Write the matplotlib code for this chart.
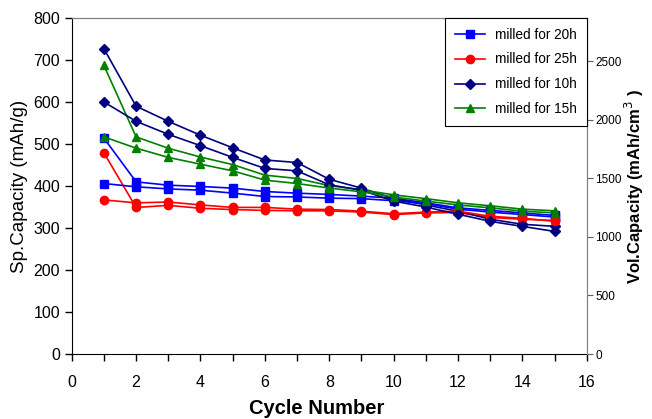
import matplotlib
matplotlib.use('Agg')
import matplotlib.pyplot as plt
from matplotlib.ticker import MultipleLocator

plt.rcParams['font.family'] = ['Liberation Sans', 'DejaVu Sans']

cycles = list(range(1, 16))

# specific capacity (mAh/g), left axis
sp_20h = [514, 410, 402, 399, 395, 387, 383, 380, 376, 371, 360, 348, 342, 336, 330]
sp_25h = [479, 349, 354, 347, 344, 342, 341, 341, 338, 332, 336, 337, 325, 321, 318]
sp_10h = [727, 590, 554, 521, 491, 462, 456, 416, 395, 370, 355, 340, 321, 309, 304]
sp_15h = [687, 517, 490, 469, 451, 426, 418, 401, 391, 379, 370, 360, 353, 345, 341]

# volumetric capacity (mAh/cm3), right axis
vol_20h = [1456, 1428, 1410, 1399, 1374, 1345, 1341, 1331, 1327, 1309, 1284, 1237, 1212, 1191, 1170]
vol_25h = [1316, 1291, 1298, 1273, 1252, 1252, 1237, 1234, 1220, 1198, 1212, 1220, 1176, 1159, 1133]
vol_10h = [2152, 1987, 1876, 1779, 1679, 1585, 1564, 1445, 1399, 1306, 1255, 1194, 1133, 1090, 1047]
vol_15h = [1854, 1758, 1679, 1621, 1564, 1485, 1456, 1417, 1385, 1341, 1306, 1273, 1248, 1220, 1205]

labels = ['milled for 20h', 'milled for 25h', 'milled for 10h', 'milled for 15h']
colors = ['#0000ff', '#ff0000', '#000080', '#008000']
markers = ['s', 'o', 'D', '^']
sizes = [6, 6, 5, 6]

fig = plt.figure(figsize=(6.52, 4.19), dpi=100)
ax = fig.add_axes([0.110, 0.155, 0.790, 0.802])
ax2 = ax.twinx()

sp_all = [sp_20h, sp_25h, sp_10h, sp_15h]
vol_all = [vol_20h, vol_25h, vol_10h, vol_15h]
handles = []
for sp, vol, lab, c, m, ms in zip(sp_all, vol_all, labels, colors, markers, sizes):
    h, = ax.plot(cycles, sp, color=c, marker=m, markersize=ms, lw=1.2, label=lab)
    ax2.plot(cycles, vol, color=c, marker=m, markersize=ms, lw=1.2)
    handles.append(h)

ax.set_xlim(0, 16)
ax.set_ylim(0, 800)
ax2.set_ylim(0, 2869)
ax.xaxis.set_major_locator(MultipleLocator(2))
ax.xaxis.set_minor_locator(MultipleLocator(1))
ax.yaxis.set_major_locator(MultipleLocator(100))
ax2.yaxis.set_major_locator(MultipleLocator(500))

ax.tick_params(axis='both', which='both', direction='out', length=5, width=1, labelsize=11.5)
ax.tick_params(axis='x', which='minor', length=5)
ax.tick_params(axis='x', pad=10)
ax2.tick_params(axis='y', direction='out', length=4, pad=2, color='#606060', labelsize=8.5)

for s in ['top', 'right']:
    ax.spines[s].set_color('#808080')
    ax2.spines[s].set_color('#808080')
ax2.spines['left'].set_visible(False)
ax2.spines['bottom'].set_visible(False)

ax.set_xlabel('Cycle Number', fontsize=14.5, fontweight='bold')
ax.xaxis.set_label_coords(0.476, -0.135)
ax.set_ylabel('Sp.Capacity (mAh/g)', fontsize=13.5, labelpad=4)
ax2.set_ylabel('Vol.Capacity (mAh/cm$^{3}$ )', fontsize=12, fontweight='bold')
ax2.yaxis.set_label_coords(1.07, 0.5)

leg = ax2.legend(handles, labels, loc='upper right', bbox_to_anchor=(1.0, 1.0),
                 borderaxespad=0, fancybox=False, framealpha=1, edgecolor='black',
                 fontsize=9.8, handlelength=2.2, labelspacing=0.8, borderpad=0.7)
leg.get_frame().set_linewidth(0.8)

fig.savefig('out.png', dpi=100)
